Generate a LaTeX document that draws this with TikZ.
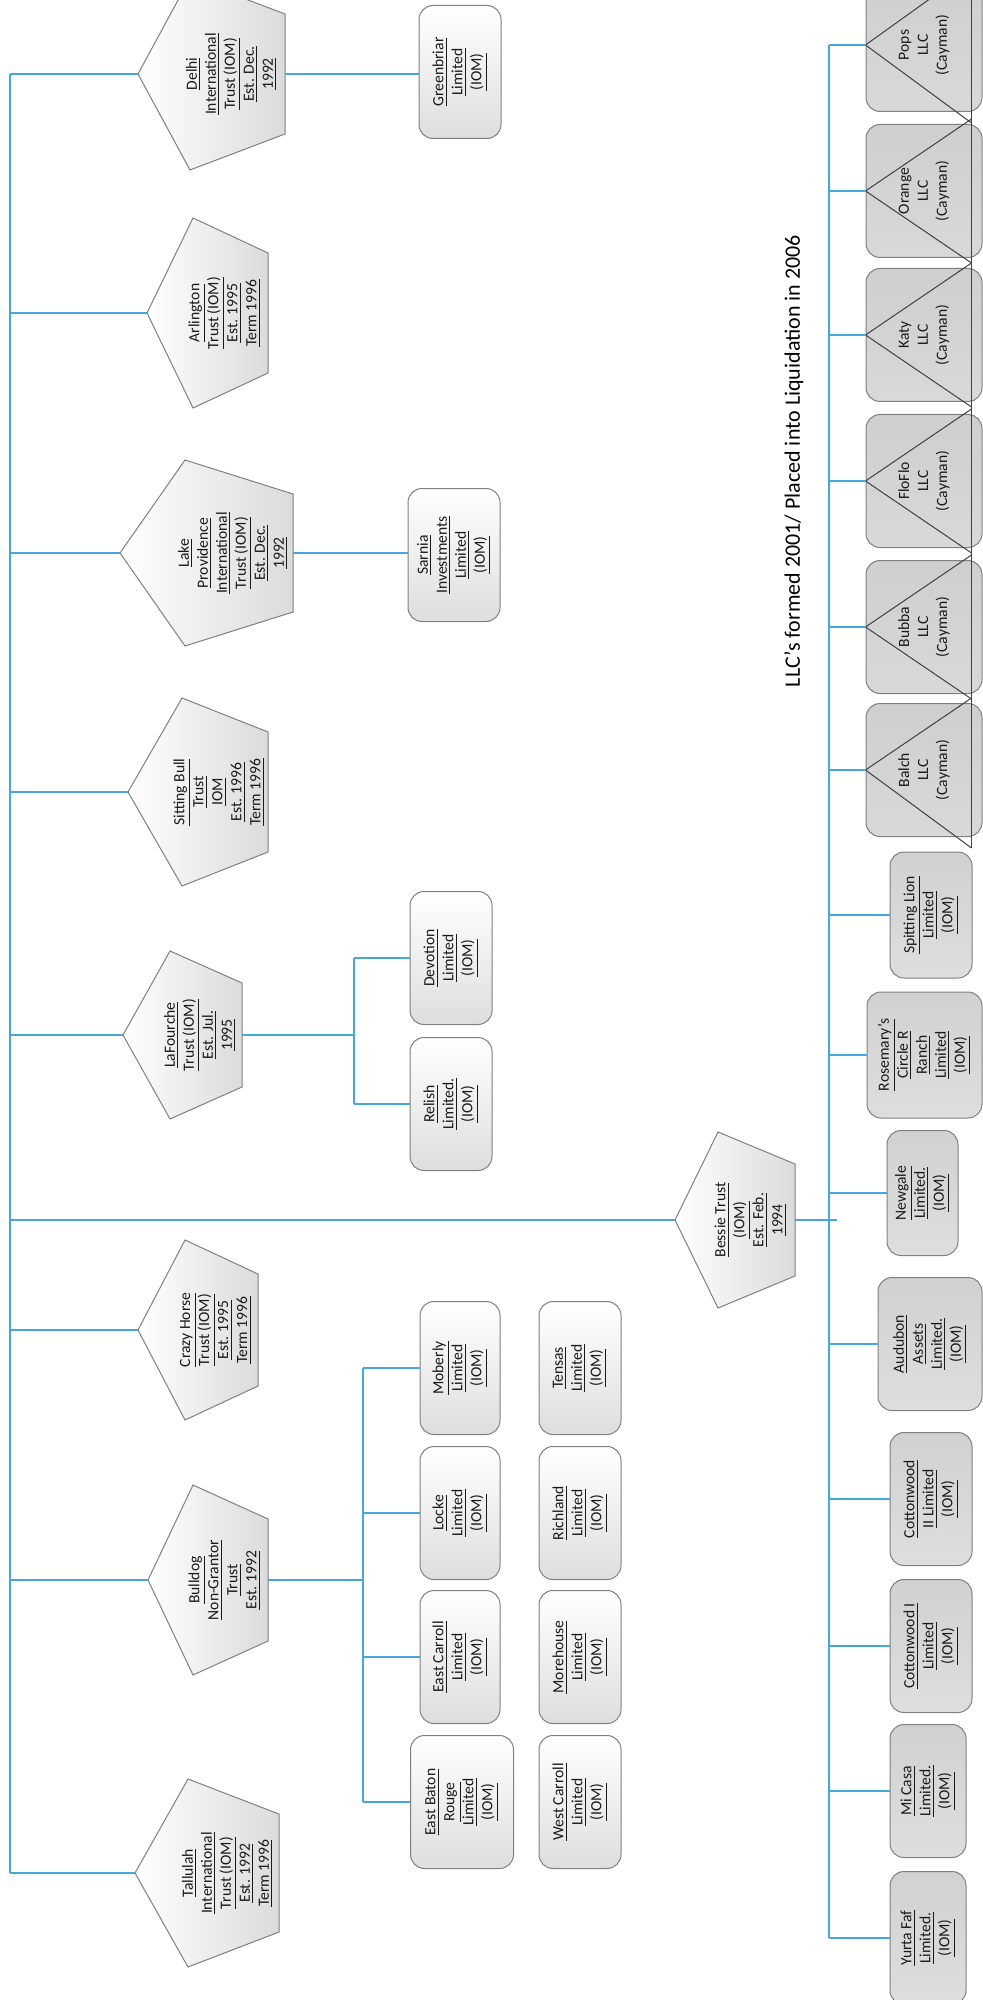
\documentclass[tikz,border=0pt]{standalone}
\usepackage{fontspec}
\setmainfont{Carlito}
\usepackage{xcolor}
\definecolor{linkblue}{RGB}{70,168,218}
\usepackage{tikz}
\usetikzlibrary{calc}
\newcommand{\boxfont}{\fontsize{7.8}{9.5}\selectfont\lineskiplimit=-20pt\relax}
\newcommand{\uln}[1]{\underline{#1}}
% trust pentagon: name, apex x, shoulder x, right x, centre y, shoulder half, corner half, text
\newcommand{\trustpent}[8]{%
  \draw[pent] (#2,#5) -- (#3,#5-#6) -- (#4,#5-#7) -- (#4,#5+#7) -- (#3,#5+#6) -- cycle;
  \coordinate (#1-a) at (#2,#5);
  \coordinate (#1-r) at (#4,#5);
  \node[ptext] (#1) at ({(#3+#4)/2-6},#5) {#8};}
\tikzset{
  boxbase/.style={rectangle, rounded corners=7pt, draw=black!50, line width=0.5pt,
                  rotate=90, align=center, inner sep=2pt, text=black!90,
                  font=\boxfont, minimum width=66.5pt, minimum height=41pt},
  sub/.style    ={boxbase, top color=white, bottom color=black!13},
  iom/.style    ={boxbase, top color=black!18, bottom color=black!13},
  llc/.style    ={boxbase, top color=black!19, bottom color=black!15, minimum height=58pt},
  pent/.style   ={draw=black!50, line width=0.5pt, left color=white, right color=black!14},
  ptext/.style  ={rotate=90, align=center, inner sep=0pt, font=\boxfont, text=black!90},
  link/.style   ={draw=linkblue, line width=1.1pt},
  tri/.style    ={draw=black!75, line width=0.5pt},
}
\begin{document}
\begin{tikzpicture}[x=0.5pt, y=-0.5pt]
  \useasboundingbox (0,0) rectangle (983,2000);

  % trusts
  \trustpent{delhi}{138}{190}{285}{74}{96}{60}{\uln{Delhi}\\\uln{International}\\\uln{Trust (IOM)}\\\uln{Est. Dec.}\\\uln{1992}}
  \trustpent{arlington}{147}{193}{268}{313}{95}{60}{\uln{Arlington}\\\uln{Trust (IOM)}\\\uln{Est. 1995}\\\uln{Term 1996}}
  \trustpent{lakeprov}{120}{185}{293}{553}{93}{59}{\uln{Lake}\\\uln{Providence}\\\uln{International}\\\uln{Trust (IOM)}\\\uln{Est. Dec.}\\\uln{1992}}
  \trustpent{sittingbull}{128}{182}{268}{792}{94}{60}{\uln{Sitting Bull}\\\uln{Trust}\\\uln{IOM}\\\uln{Est. 1996}\\\uln{Term 1996}}
  \trustpent{lafourche}{123}{170}{242}{1035}{84}{52}{\uln{LaFourche}\\\uln{Trust (IOM)}\\\uln{Est. Jul.}\\\uln{1995}}
  \trustpent{crazyhorse}{138}{185}{258}{1330}{90}{56}{\uln{Crazy Horse}\\\uln{Trust (IOM)}\\\uln{Est. 1995}\\\uln{Term 1996}}
  \trustpent{bulldog}{148}{193}{268}{1580}{95}{61}{\uln{Bulldog}\\\uln{Non-Grantor}\\\uln{Trust}\\\uln{Est. 1992}}
  \trustpent{tallulah}{135}{188}{279}{1873}{94}{59}{\uln{Tallulah}\\\uln{International}\\\uln{Trust (IOM)}\\\uln{Est. 1992}\\\uln{Term 1996}}
  \trustpent{bessie}{675}{718}{795}{1220}{88}{56}{\uln{Bessie Trust}\\\uln{(IOM)}\\\uln{Est. Feb.}\\\uln{1994}}

  % companies of the trusts
  \node[sub] (greenbriar) at (460,72) {\uln{Greenbriar}\\\uln{Limited}\\\uln{(IOM)}};
  \node[sub, minimum height=46pt] (sarnia) at (454,555) {\uln{Sarnia}\\\uln{Investments}\\\uln{Limited}\\\uln{(IOM)}};
  \node[sub] (devotion) at (451,958) {\uln{Devotion}\\\uln{Limited}\\\uln{(IOM)}};
  \node[sub] (relish) at (451,1104) {\uln{Relish}\\\uln{Limited.}\\\uln{(IOM)}};
  \node[sub, minimum height=40pt] (moberly) at (460,1368) {\uln{Moberly}\\\uln{Limited}\\\uln{(IOM)}};
  \node[sub, minimum height=40pt] (locke) at (460,1513) {\uln{Locke}\\\uln{Limited}\\\uln{(IOM)}};
  \node[sub, minimum height=40pt] (eastcarroll) at (460,1657) {\uln{East Carroll}\\\uln{Limited}\\\uln{(IOM)}};
  \node[sub, minimum height=51.5pt] (eastbaton) at (462,1802) {\uln{East Baton}\\\uln{Rouge}\\\uln{Limited}\\\uln{(IOM)}};
  \node[sub] (tensas) at (580,1368) {\uln{Tensas}\\\uln{Limited}\\\uln{(IOM)}};
  \node[sub] (richland) at (580,1513) {\uln{Richland}\\\uln{Limited}\\\uln{(IOM)}};
  \node[sub] (morehouse) at (580,1657) {\uln{Morehouse}\\\uln{Limited}\\\uln{(IOM)}};
  \node[sub] (westcarroll) at (580,1802) {\uln{West Carroll}\\\uln{Limited}\\\uln{(IOM)}};

  % Bessie companies
  \node[llc] (pops)   at (924,45)  {Pops\\LLC\\(Cayman)};
  \node[llc] (orange) at (924,191) {Orange\\LLC\\(Cayman)};
  \node[llc] (katy)   at (924,335) {Katy\\LLC\\(Cayman)};
  \node[llc] (floflo) at (924,481) {FloFlo\\LLC\\(Cayman)};
  \node[llc] (bubba)  at (924,627) {Bubba\\LLC\\(Cayman)};
  \node[llc] (balch)  at (924,770) {Balch\\LLC\\(Cayman)};
  \node[iom, minimum width=63pt] (spitting) at (931,915) {\uln{Spitting Lion}\\\uln{Limited}\\\uln{(IOM)}};
  \node[iom, minimum width=63pt, minimum height=57.5pt] (rosemary) at (924.5,1055) {\uln{Rosemary’s}\\\uln{Circle R}\\\uln{Ranch}\\\uln{Limited}\\\uln{(IOM)}};
  \node[iom, minimum width=62.5pt, minimum height=35.5pt] (newgale) at (922.5,1193) {\uln{Newgale}\\\uln{Limited.}\\\uln{(IOM)}};
  \node[iom, minimum height=52pt] (audubon) at (930,1344) {\uln{Audubon}\\\uln{Assets}\\\uln{Limited.}\\\uln{(IOM)}};
  \node[iom] (cottontwo) at (931,1499) {\uln{Cottonwood}\\\uln{II Limited}\\\uln{(IOM)}};
  \node[iom] (cottonone) at (931,1646) {\uln{Cottonwood I}\\\uln{Limited}\\\uln{(IOM)}};
  \node[iom, minimum height=38pt] (micasa) at (928,1791) {\uln{Mi Casa}\\\uln{Limited.}\\\uln{(IOM)}};
  \node[iom, minimum height=38pt] (yurta) at (928,1938) {\uln{Yurta Faf}\\\uln{Limited.}\\\uln{(IOM)}};

  \node[rotate=90, inner sep=0pt, font=\fontsize{11}{13}\selectfont] (llcnote) at (794,461)
    {LLC’s formed 2001/ Placed into Liquidation in 2006};

  % crossed-out LLCs
  \draw[tri] ($(pops.north)+(106,-80)$) -- ($(balch.north)+(106,78)$);
  \draw[tri] ($(pops.north)+(106,-76)$) -- (pops.north) -- ($(pops.north)+(106,78)$);
  \draw[tri] ($(orange.north)+(106,-72)$) -- (orange.north) -- ($(orange.north)+(106,72)$);
  \draw[tri] ($(katy.north)+(106,-72)$) -- (katy.north) -- ($(katy.north)+(106,72)$);
  \draw[tri] ($(floflo.north)+(106,-72)$) -- (floflo.north) -- ($(floflo.north)+(106,72)$);
  \draw[tri] ($(bubba.north)+(106,-72)$) -- (bubba.north) -- ($(bubba.north)+(106,72)$);
  \draw[tri] ($(balch.north)+(106,-72)$) -- (balch.north) -- ($(balch.north)+(106,78)$);

  % trunk
  \coordinate (trunk) at (10,0);
  \draw[link] (trunk |- delhi-a) -- (trunk |- tallulah-a);
  \draw[link] (trunk |- delhi-a) -- (delhi-a);
  \draw[link] (trunk |- arlington-a) -- (arlington-a);
  \draw[link] (trunk |- lakeprov-a) -- (lakeprov-a);
  \draw[link] (trunk |- sittingbull-a) -- (sittingbull-a);
  \draw[link] (trunk |- lafourche-a) -- (lafourche-a);
  \draw[link] (trunk |- bessie-a) -- (bessie-a);
  \draw[link] (trunk |- crazyhorse-a) -- (crazyhorse-a);
  \draw[link] (trunk |- bulldog-a) -- (bulldog-a);
  \draw[link] (trunk |- tallulah-a) -- (tallulah-a);

  % single companies
  \draw[link] (delhi-r) -- (delhi-r -| greenbriar.north);
  \draw[link] (lakeprov-r) -- (lakeprov-r -| sarnia.north);

  % LaFourche
  \coordinate (lfbar) at (354,0);
  \draw[link] (lafourche-r) -- (lfbar |- lafourche-r);
  \draw[link] (lfbar |- devotion.north) -- (lfbar |- relish.north);
  \draw[link] (lfbar |- devotion.north) -- (devotion.north);
  \draw[link] (lfbar |- relish.north) -- (relish.north);

  % Bulldog
  \coordinate (bdbar) at (363,0);
  \draw[link] (bulldog-r) -- (bdbar |- bulldog-r);
  \draw[link] (bdbar |- moberly.north) -- (bdbar |- eastbaton.north);
  \draw[link] (bdbar |- moberly.north) -- (moberly.north);
  \draw[link] (bdbar |- locke.north) -- (locke.north);
  \draw[link] (bdbar |- eastcarroll.north) -- (eastcarroll.north);
  \draw[link] (bdbar |- eastbaton.north) -- (eastbaton.north);

  % Bessie
  \coordinate (llcbar) at (829,0);
  \draw[link] (bessie-r) -- ($(llcbar |- bessie-r)+(8,0)$);
  \draw[link] (llcbar |- pops.north) -- (llcbar |- yurta.north);
  \draw[link] (llcbar |- pops.north) -- (pops.north);
  \draw[link] (llcbar |- orange.north) -- (orange.north);
  \draw[link] (llcbar |- katy.north) -- (katy.north);
  \draw[link] (llcbar |- floflo.north) -- (floflo.north);
  \draw[link] (llcbar |- bubba.north) -- (bubba.north);
  \draw[link] (llcbar |- balch.north) -- (balch.north);
  \draw[link] (llcbar |- spitting.north) -- (spitting.north);
  \draw[link] (llcbar |- rosemary.north) -- (rosemary.north);
  \draw[link] (llcbar |- newgale.north) -- (newgale.north);
  \draw[link] (llcbar |- audubon.north) -- (audubon.north);
  \draw[link] (llcbar |- cottontwo.north) -- (cottontwo.north);
  \draw[link] (llcbar |- cottonone.north) -- (cottonone.north);
  \draw[link] (llcbar |- micasa.north) -- (micasa.north);
  \draw[link] (llcbar |- yurta.north) -- (yurta.north);
\end{tikzpicture}
\end{document}
